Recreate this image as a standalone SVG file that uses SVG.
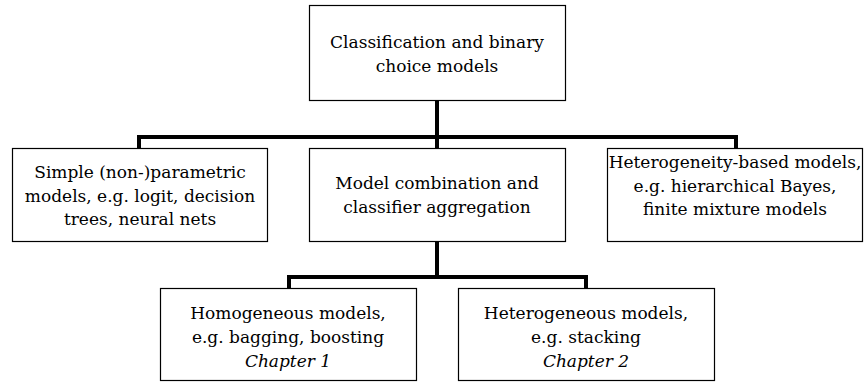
<svg xmlns="http://www.w3.org/2000/svg" width="864" height="383" viewBox="0 0 864 383">
<style>
.box{fill:#fff;stroke:#000;stroke-width:1.2}
.t{font-family:'DejaVu Serif','Liberation Serif',serif;font-size:17px;fill:#000;text-anchor:middle}
.i{font-style:italic}
.c{fill:none;stroke:#000;stroke-width:4;stroke-linejoin:miter;stroke-linecap:butt}
</style>
<rect width="864" height="383" fill="#fff"/>
<g id="connectors">
<path class="c" d="M437,100 V148"/>
<path class="c" d="M139,148 V137 H736 V148"/>
<path class="c" d="M437,241 V277"/>
<path class="c" d="M289,288 V277 H586 V288"/>
</g>
<g id="root">
<rect class="box" x="309.5" y="5.5" width="256" height="95"/>
<text class="t" x="437" y="48">Classification and binary</text>
<text class="t" x="437" y="72">choice models</text>
</g>
<g id="simple">
<rect class="box" x="12.5" y="148.5" width="255" height="93"/>
<text class="t" x="140" y="178">Simple (non-)parametric</text>
<text class="t" x="140" y="202">models, e.g. logit, decision</text>
<text class="t" x="140" y="225">trees, neural nets</text>
</g>
<g id="combination">
<rect class="box" x="309.5" y="148.5" width="256" height="93"/>
<text class="t" x="437" y="189">Model combination and</text>
<text class="t" x="437" y="213">classifier aggregation</text>
</g>
<g id="heterogeneity">
<rect class="box" x="607.5" y="148.5" width="255" height="93"/>
<text class="t" x="735" y="168">Heterogeneity-based models,</text>
<text class="t" x="735" y="192">e.g. hierarchical Bayes,</text>
<text class="t" x="735" y="215">finite mixture models</text>
</g>
<g id="homogeneous">
<rect class="box" x="160.5" y="288.5" width="256" height="92"/>
<text class="t" x="288" y="319">Homogeneous models,</text>
<text class="t" x="288" y="343">e.g. bagging, boosting</text>
<text class="t i" x="288" y="367">Chapter 1</text>
</g>
<g id="heterogeneous">
<rect class="box" x="458.5" y="288.5" width="256" height="92"/>
<text class="t" x="586" y="319">Heterogeneous models,</text>
<text class="t" x="586" y="343">e.g. stacking</text>
<text class="t i" x="586" y="367">Chapter 2</text>
</g>
</svg>
